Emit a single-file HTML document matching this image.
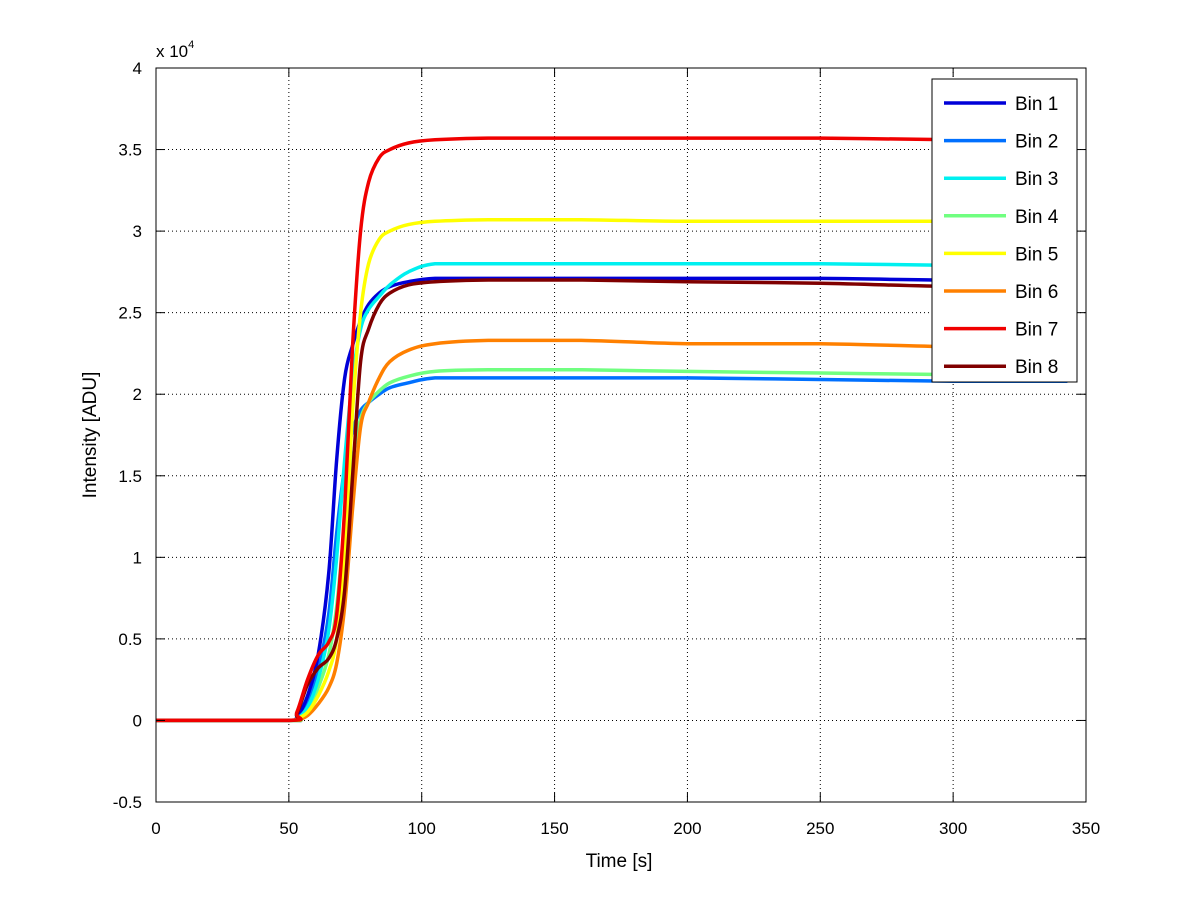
<!DOCTYPE html>
<html><head><meta charset="utf-8"><style>
body{margin:0;background:#fff;}
svg{font-family:"Liberation Sans",sans-serif;}
</style></head><body>
<svg id="chart" width="1200" height="901" xmlns="http://www.w3.org/2000/svg">
<rect width="1200" height="901" fill="#fff"/>
<g id="grid"></g>
<g id="series"></g>
<rect x="156" y="68" width="930" height="734" fill="none" stroke="#000" stroke-width="1"/>
<g id="ticks"></g>
<text x="156" y="57" font-size="17">x 10<tspan font-size="11" dy="-9">4</tspan></text>
<text x="619" y="867" font-size="19" text-anchor="middle">Time [s]</text>
<text transform="translate(96,435) rotate(-90)" font-size="19" text-anchor="middle">Intensity [ADU]</text>
<g id="legend"></g>
</svg>
<script>
const xTicks=[0,50,100,150,200,250,300,350];
const yTicks=[-0.5,0,0.5,1,1.5,2,2.5,3,3.5,4];
const seriesNames=["Bin 1","Bin 2","Bin 3","Bin 4","Bin 5","Bin 6","Bin 7","Bin 8"];
const seriesColors=["#0000d8","#0070ff","#00f0f0","#70ff80","#ffff00","#ff8000","#f00000","#800000"];
const times=[0,50,53,57,61,65,68,71,74,77,80,84,88,95,105,125,160,200,250,300,343];
const bin1=[0,0,0.02,0.15,0.4,0.9,1.6,2.1,2.3,2.45,2.55,2.62,2.66,2.69,2.71,2.71,2.71,2.71,2.71,2.7,2.71];
const bin2=[0,0,0.01,0.1,0.3,0.65,1.15,1.55,1.78,1.9,1.95,2.0,2.04,2.07,2.1,2.1,2.1,2.1,2.09,2.08,2.08];
const bin3=[0,0,0.01,0.08,0.25,0.55,1.0,1.6,2.1,2.4,2.52,2.6,2.67,2.75,2.8,2.8,2.8,2.8,2.8,2.79,2.79];
const bin4=[0,0,0.01,0.06,0.2,0.4,0.7,1.2,1.6,1.85,1.95,2.02,2.07,2.11,2.14,2.15,2.15,2.14,2.13,2.12,2.11];
const bin5=[0,0,0.01,0.05,0.15,0.3,0.5,1.0,1.9,2.5,2.8,2.95,3.0,3.04,3.06,3.07,3.07,3.06,3.06,3.06,3.06];
const bin6=[0,0,0,0.03,0.1,0.2,0.35,0.7,1.3,1.8,1.95,2.1,2.2,2.27,2.31,2.33,2.33,2.31,2.31,2.29,2.28];
const bin7=[0,0,0.05,0.25,0.4,0.48,0.65,1.3,2.3,3.0,3.3,3.45,3.5,3.54,3.56,3.57,3.57,3.57,3.57,3.56,3.56];
const bin8=[0,0,0.04,0.22,0.32,0.38,0.5,0.8,1.5,2.2,2.4,2.55,2.62,2.67,2.69,2.7,2.7,2.69,2.68,2.66,2.66];
const allSeries=[bin1,bin2,bin3,bin4,bin5,bin6,bin7,bin8];
const NS="http://www.w3.org/2000/svg";
const X0=156,X1=1086,Y0=802,Y1=68;
const xs=t=>X0+(t-0)/(350-0)*(X1-X0);
const ys=v=>Y0-(v-(-0.5))/(4-(-0.5))*(Y0-Y1);
function mk(tag,attrs,parent){const e=document.createElementNS(NS,tag);for(const k in attrs)e.setAttribute(k,attrs[k]);parent.appendChild(e);return e;}
const grid=document.getElementById('grid'),ticks=document.getElementById('ticks');
xTicks.forEach(t=>{
  const x=xs(t);
  if(t>0&&t<350){const l=mk('line',{x1:x,x2:x,y1:Y1,y2:Y0,stroke:'#000','stroke-width':1,'stroke-dasharray':'1,3'},grid);
  
  }
  const a=mk('line',{x1:x,x2:x,y1:Y0,y2:Y0-9,stroke:'#000'},ticks);
  
  
  const b=mk('line',{x1:x,x2:x,y1:Y1,y2:Y1+9,stroke:'#000'},ticks);
  
  
  const tx=mk('text',{x:x,y:Y0+32,'font-size':17,'text-anchor':'middle'},ticks);tx.textContent=t;
  
  
});
yTicks.forEach(v=>{
  const y=ys(v);
  if(v>-0.5&&v<4){const l=mk('line',{x1:X0,x2:X1,y1:y,y2:y,stroke:'#000','stroke-width':1,'stroke-dasharray':'1,3'},grid);
  
  }
  const a=mk('line',{x1:X0,x2:X0+9,y1:y,y2:y,stroke:'#000'},ticks);
  
  
  const b=mk('line',{x1:X1,x2:X1-9,y1:y,y2:y,stroke:'#000'},ticks);
  
  
  const tx=mk('text',{x:X0-14,y:y+6,'font-size':17,'text-anchor':'end'},ticks);tx.textContent=v;
  
  
});
function smoothPath(pts){
  let d='M'+pts[0][0].toFixed(1)+','+pts[0][1].toFixed(1);
  for(let i=0;i<pts.length-1;i++){
    const p0=pts[Math.max(0,i-1)],p1=pts[i],p2=pts[i+1],p3=pts[Math.min(pts.length-1,i+2)];
    let c1=[p1[0]+(p2[0]-p0[0])/6,p1[1]+(p2[1]-p0[1])/6];
    let c2=[p2[0]-(p3[0]-p1[0])/6,p2[1]-(p3[1]-p1[1])/6];
    if(p1[1]===p2[1]){c1[1]=p1[1];c2[1]=p2[1];}
    d+=' C'+c1[0].toFixed(1)+','+c1[1].toFixed(1)+' '+c2[0].toFixed(1)+','+c2[1].toFixed(1)+' '+p2[0].toFixed(1)+','+p2[1].toFixed(1);
  }
  return d;
}
const sg=document.getElementById('series');
const order=[1,3,5,0,2,4,7,6];
order.forEach(i=>{
  const pts=times.map((t,k)=>[xs(t),ys(allSeries[i][k])]);
  const p=mk('path',{d:smoothPath(pts),fill:'none',stroke:seriesColors[i],'stroke-width':3.5,'stroke-linejoin':'round'},sg);
  
  
});
const lg=document.getElementById('legend');
const box=mk('rect',{x:932,y:79,width:145,height:303,fill:'#fff',stroke:'#000'},lg);


seriesNames.forEach((n,i)=>{
  const y=103+i*37.6;
  const l=mk('line',{x1:944,x2:1006,y1:y,y2:y,stroke:seriesColors[i],'stroke-width':3.5},lg);
  
  
  const t=mk('text',{x:1015,y:y+7,'font-size':19},lg);t.textContent=n;
  
  
});
</script>
</body></html>
